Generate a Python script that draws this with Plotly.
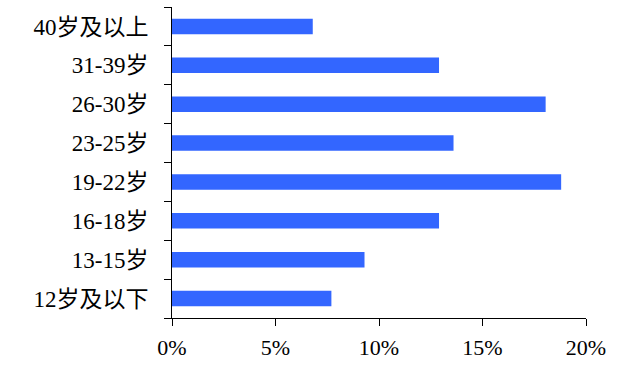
import plotly.graph_objects as go

categories = ["12岁及以下", "13-15岁", "16-18岁", "19-22岁", "23-25岁", "26-30岁", "31-39岁", "40岁及以上"]
values = [7.7, 9.3, 12.9, 18.8, 13.6, 18.05, 12.9, 6.8]
x_tickvals = [0, 5, 10, 15, 20]
x_ticktext = ["0%", "5%", "10%", "15%", "20%"]

font_family = "Liberation Serif, Times New Roman, Noto Sans CJK SC, serif"

fig = go.Figure(go.Bar(
    y=categories, x=values, orientation="h",
    marker=dict(color="#3366FF", line=dict(width=0)),
    width=0.4,
))

fig.update_layout(
    width=643, height=369,
    margin=dict(l=172, r=57, t=7, b=51, autoexpand=False),
    paper_bgcolor="white", plot_bgcolor="white",
    font=dict(family=font_family, size=23, color="black"),
    showlegend=False,
    xaxis=dict(
        range=[0, 20], tickvals=x_tickvals, ticktext=x_ticktext, automargin=False,
        showgrid=False, zeroline=False, showline=True, linecolor="black", linewidth=1,
        ticks="outside", ticklen=7, tickcolor="black", tickwidth=1, ticklabelstandoff=3,
        tickfont=dict(family=font_family, size=22),
    ),
    yaxis=dict(
        type="category", categoryorder="array", categoryarray=categories, automargin=False,
        showgrid=False, zeroline=False, showline=True, linecolor="black", linewidth=1,
        ticks="outside", ticklen=7, tickcolor="black", tickwidth=1, tickson="boundaries",
        tickfont=dict(family=font_family, size=23), ticklabelstandoff=18,
    ),
)

fig.write_html("out.html", config={"displayModeBar": False},
               post_script="document.body.style.margin='0';")
